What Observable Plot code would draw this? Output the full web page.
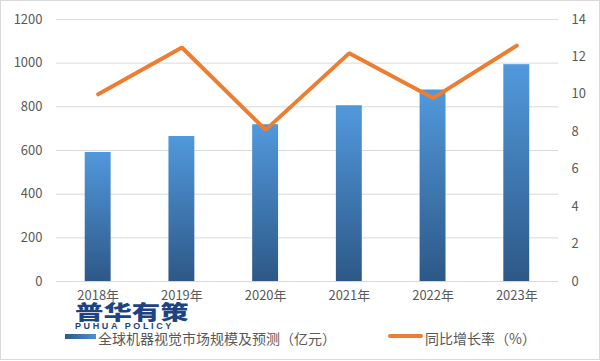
<!DOCTYPE html>
<html>
<head>
<meta charset="utf-8">
<script src="https://cdn.jsdelivr.net/npm/d3@7"></script>
<script src="https://cdn.jsdelivr.net/npm/@observablehq/plot@0.6"></script>
<style>
  html, body { margin: 0; padding: 0; background: #fff; }
  #wrap { position: relative; width: 600px; height: 360px; box-sizing: border-box; border: 1px solid #d9d9d9; overflow: hidden; background: #fff; }
  #chart { position: absolute; left: -1px; top: -1px; }
  .lg { position: absolute; font-family: "Noto Sans CJK SC", sans-serif; font-size: 14px; color: #595959; line-height: 14px; white-space: nowrap; }
  .logo { position: absolute; font-family: "Noto Sans CJK SC", sans-serif; color: #1e4383; white-space: nowrap; }
</style>
</head>
<body>
<div id="wrap">
  <div id="chart"></div>
  <div class="logo" id="logoCn" style="left:74px; top:301px; font-size:20px; font-weight:900; line-height:20px; transform:scaleX(1.42); transform-origin:left top;"></div>
  <div class="logo" id="logoEn" style="left:74px; top:321px; font-family:'Liberation Sans',Arial,sans-serif; font-size:9px; font-weight:bold; line-height:9px; letter-spacing:2.6px;"></div>
  <div style="position:absolute; left:64px; top:333px; width:31px; height:5px; background:linear-gradient(to right,#2d5a8a,#4d8fd0);"></div>
  <div class="lg" id="lg1" style="left:97px; top:330px;"></div>
  <div style="position:absolute; left:387px; top:333px; width:35px; height:4px; border-radius:2px; background:#ED7D31;"></div>
  <div class="lg" id="lg2" style="left:424px; top:330px;"></div>
</div>
<script>
// ---- data ----
const years = ["2018年", "2019年", "2020年", "2021年", "2022年", "2023年"];
const marketSize = [591, 664, 718, 805, 877, 993];          // 亿元 (left axis)
const growthRate = [10.0, 12.5, 8.1, 12.2, 9.8, 12.6];      // % (right axis)
const leftTicks = [0, 200, 400, 600, 800, 1000, 1200];
const rightTicks = [0, 2, 4, 6, 8, 10, 12, 14];
const barLabel = "全球机器视觉市场规模及预测（亿元）";
const lineLabel = "同比增长率（%）";
const logoCn = "普华有策";
const logoEn = "PUHUA POLICY";

const leftMax = 1200, rightMax = 14;
const toLeft = v => v * leftMax / rightMax;

const bars = years.map((y, i) => ({year: y, value: marketSize[i]}));
const rates = years.map((y, i) => ({year: y, rate: growthRate[i], scaled: toLeft(growthRate[i])}));

const font = "'Noto Sans CJK SC', sans-serif";

const plot = Plot.plot({
  width: 601,
  height: 311,
  marginLeft: 56,
  marginRight: 41,
  marginTop: 19,
  marginBottom: 29,
  style: {fontFamily: font, fontSize: "13px", color: "#595959", background: "transparent"},
  x: {domain: years, paddingInner: 0.69, paddingOuter: 0.345, label: null},
  y: {domain: [0, leftMax], label: null},
  marks: [
    Plot.ruleY(leftTicks, {stroke: "#d9d9d9", strokeWidth: 1}),
    Plot.barY(bars, {x: "year", y: "value", fill: "url(#barGrad)"}),
    Plot.line(rates, {x: "year", y: "scaled", stroke: "#ED7D31", strokeWidth: 4, strokeLinejoin: "miter", strokeLinecap: "round"}),
    Plot.axisX({tickSize: 0, tickPadding: 9, fill: "#595959", fontSize: 13, label: null}),
    Plot.axisY({anchor: "left", ticks: leftTicks, tickFormat: d => String(d), tickSize: 0, tickPadding: 14, fill: "#595959", fontSize: 13, label: null}),
    Plot.axisY({anchor: "right", ticks: rightTicks.map(toLeft), tickFormat: (d, i) => String(rightTicks[i]), tickSize: 0, tickPadding: 13, fill: "#595959", fontSize: 13, label: null})
  ]
});

const ns = "http://www.w3.org/2000/svg";
const defs = document.createElementNS(ns, "defs");
const grad = document.createElementNS(ns, "linearGradient");
grad.setAttribute("id", "barGrad");
grad.setAttribute("x1", "0"); grad.setAttribute("y1", "0");
grad.setAttribute("x2", "0"); grad.setAttribute("y2", "1");
[["0%", "#5199dc"], ["100%", "#2d5887"]].forEach(([o, c]) => {
  const s = document.createElementNS(ns, "stop");
  s.setAttribute("offset", o); s.setAttribute("stop-color", c);
  grad.appendChild(s);
});
defs.appendChild(grad);
plot.insertBefore(defs, plot.firstChild);

document.getElementById("chart").appendChild(plot);
document.getElementById("lg1").textContent = barLabel;
document.getElementById("lg2").textContent = lineLabel;
document.getElementById("logoCn").textContent = logoCn;
document.getElementById("logoEn").textContent = logoEn;
</script>
</body>
</html>
